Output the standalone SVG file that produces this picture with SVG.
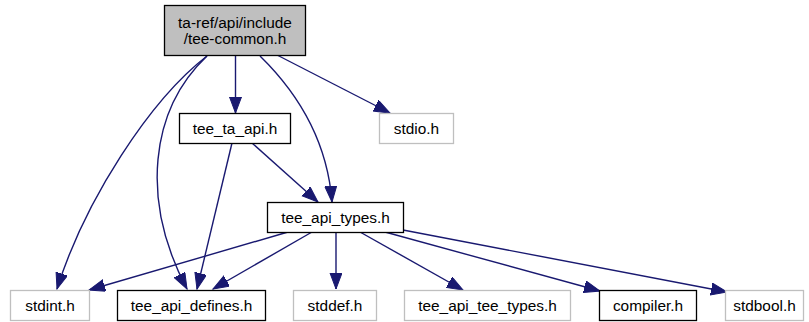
<svg xmlns="http://www.w3.org/2000/svg" width="809" height="322" viewBox="0 0 809 322">
<style>
text{font-family:"Liberation Sans",Arial,sans-serif;font-size:15.4px;fill:#000;text-anchor:middle}
.n{fill:#fff;stroke:#000;stroke-width:1.3}
.g{fill:#fff;stroke:#bfbfbf;stroke-width:1.3}
.r{fill:#bfbfbf;stroke:#000;stroke-width:1.3}
.e{fill:none;stroke:#191970;stroke-width:1.4;marker-end:url(#a)}
</style>
<defs>
<marker id="a" markerUnits="userSpaceOnUse" markerWidth="18" markerHeight="14" refX="16" refY="6" orient="auto">
<path d="M0,0 L16,6 L0,12 Z" fill="#191970" stroke="#191970" stroke-width="1"/>
</marker>
</defs>
<rect width="809" height="322" fill="#fff"/>
<g id="edges">
<path class="e" d="M207,56 C150,100 85,200 57,289"/>
<path class="e" d="M207,56 C150,110 140,200 187,289"/>
<path class="e" d="M235.5,55 L235.5,113"/>
<path class="e" d="M260,56 C305,100 328,150 332,202"/>
<path class="e" d="M277,55 L390,113"/>
<path class="e" d="M232,143 L197,289"/>
<path class="e" d="M252,143 L318,202"/>
<path class="e" d="M288,232 L89,290"/>
<path class="e" d="M312,232 L213,289"/>
<path class="e" d="M336,232 L336,289"/>
<path class="e" d="M360,232 L463,290"/>
<path class="e" d="M385,232 L600,291"/>
<path class="e" d="M403,230 L727,292"/>
</g>
<g id="root">
<rect class="r" x="164.5" y="5.5" width="141" height="50"/>
<text x="235" y="27.5">ta-ref/api/include</text>
<text x="235" y="44">/tee-common.h</text>
</g>
<g id="tee_ta_api">
<rect class="n" x="179.5" y="113.5" width="111" height="30"/>
<text x="235" y="133.5">tee_ta_api.h</text>
</g>
<g id="stdio">
<rect class="g" x="379.5" y="113.5" width="74" height="30"/>
<text x="416.5" y="133.5">stdio.h</text>
</g>
<g id="tee_api_types">
<rect class="n" x="267.5" y="202.5" width="136" height="30"/>
<text x="335.5" y="222.5">tee_api_types.h</text>
</g>
<g id="stdint">
<rect class="g" x="10.5" y="290.5" width="79" height="30"/>
<text x="50" y="311">stdint.h</text>
</g>
<g id="tee_api_defines">
<rect class="n" x="117.5" y="290.5" width="148" height="30"/>
<text x="191.5" y="311">tee_api_defines.h</text>
</g>
<g id="stddef">
<rect class="g" x="293.5" y="290.5" width="83" height="30"/>
<text x="335" y="311">stddef.h</text>
</g>
<g id="tee_api_tee_types">
<rect class="g" x="404.5" y="290.5" width="166" height="30"/>
<text x="487.5" y="311">tee_api_tee_types.h</text>
</g>
<g id="compiler">
<rect class="n" x="599.5" y="290.5" width="97" height="30"/>
<text x="648" y="311">compiler.h</text>
</g>
<g id="stdbool">
<rect class="g" x="725.5" y="290.5" width="78" height="30"/>
<text x="764.5" y="311">stdbool.h</text>
</g>
</svg>
